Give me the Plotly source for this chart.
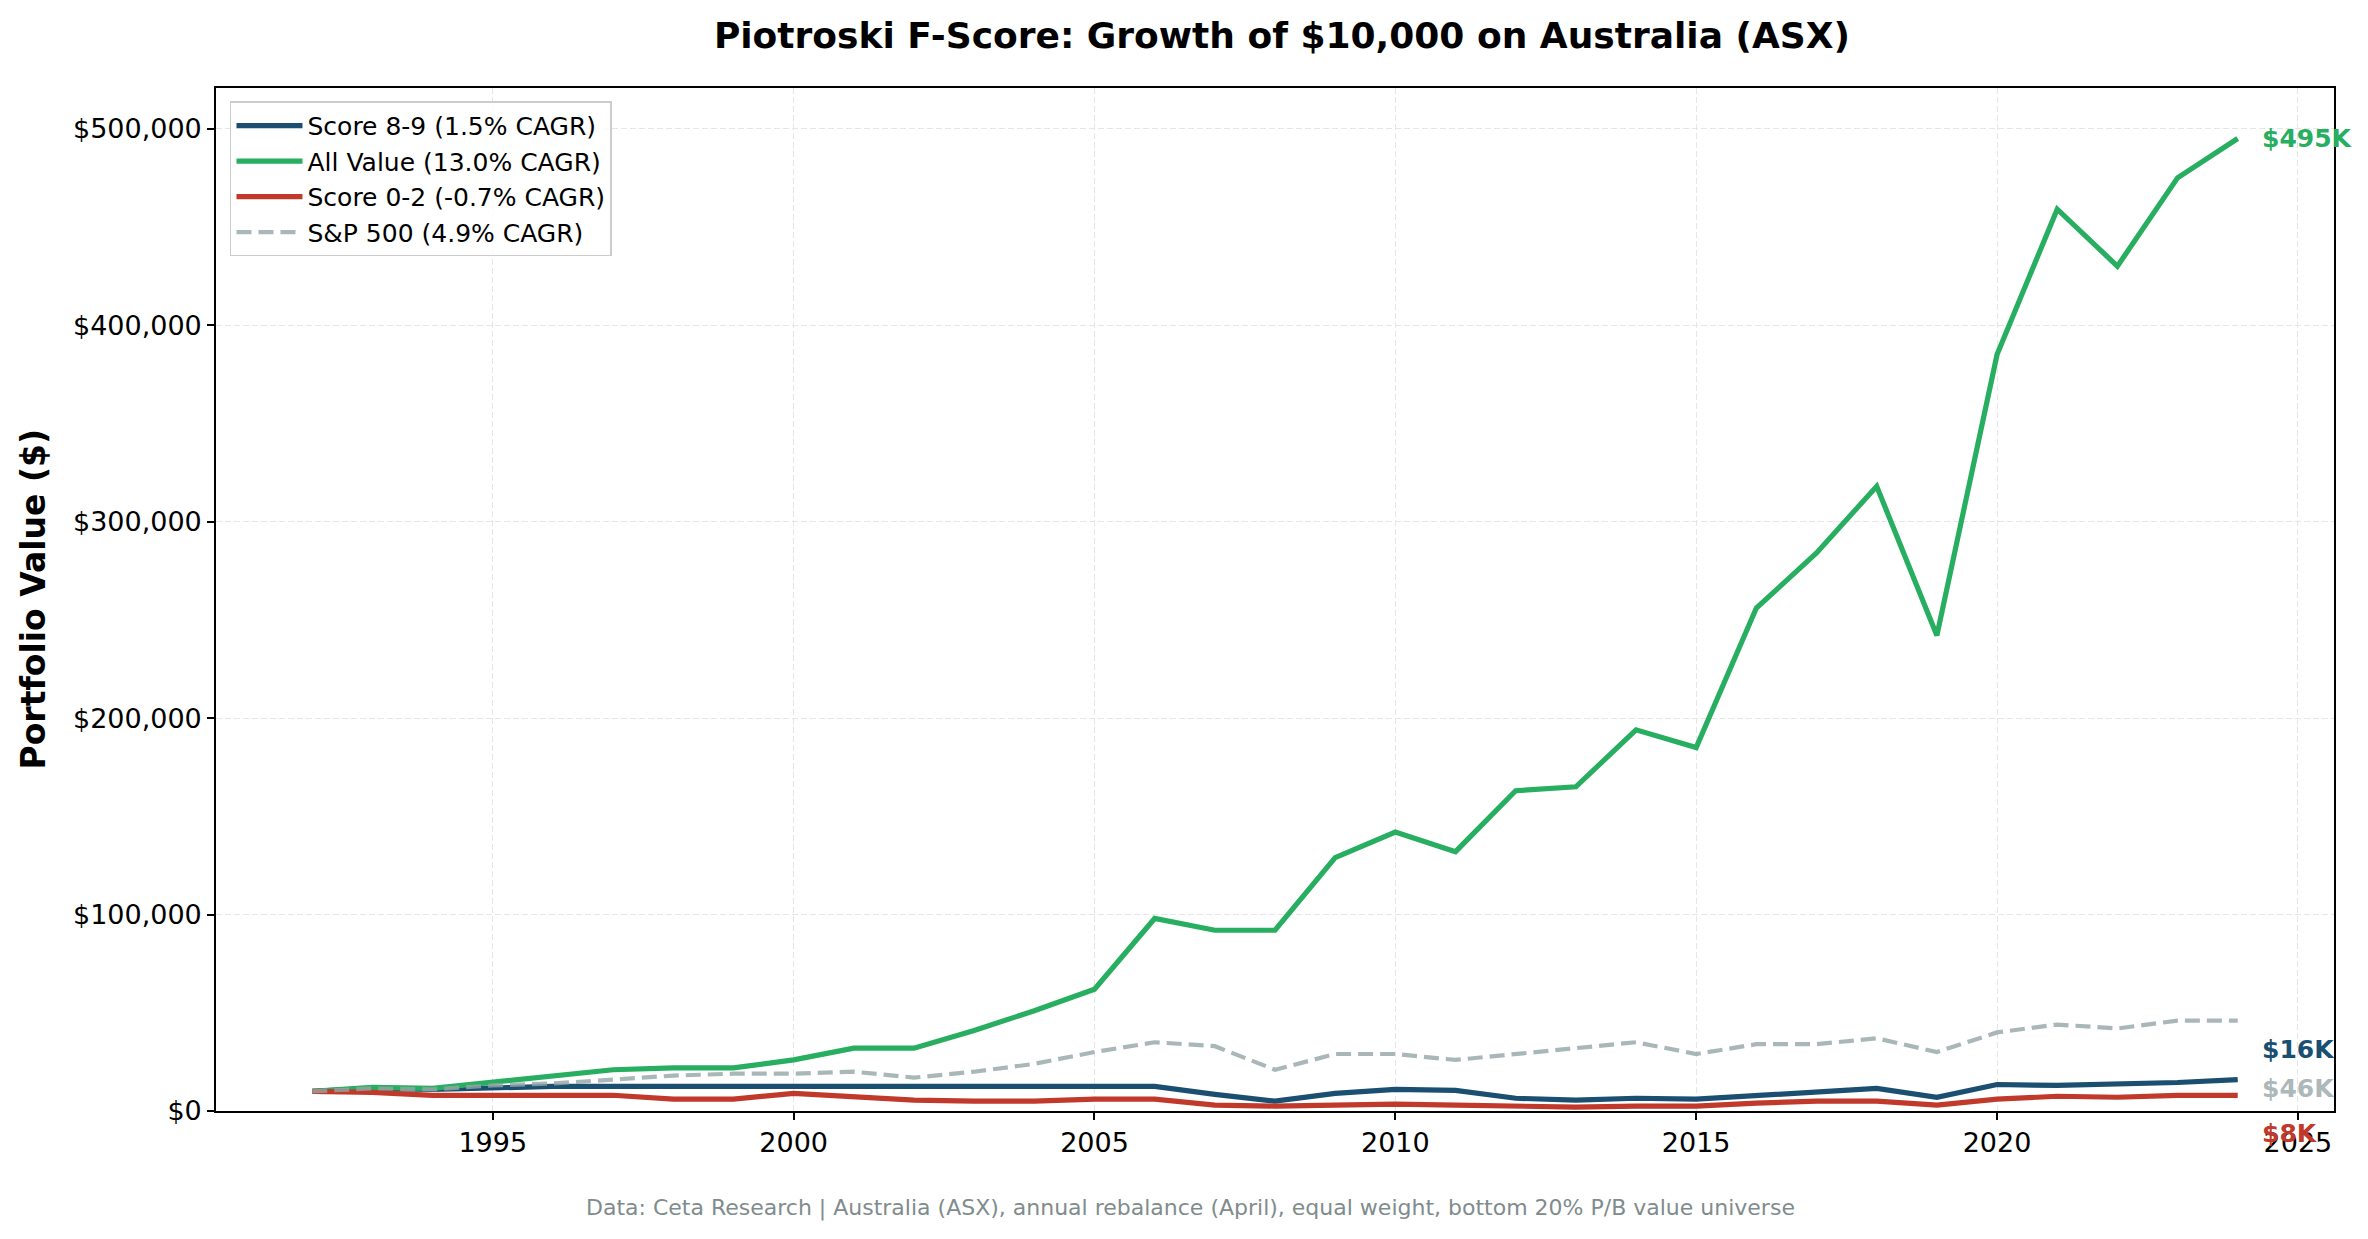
import plotly.graph_objects as go

years = list(range(1992, 2025))

score_89 = [10000, 11500, 11000, 12000, 12500, 12500, 12500, 12500, 12500, 12500, 12500,
            12500, 12500, 12500, 12500, 8500, 5000, 9000, 11000, 10500, 6500, 5500,
            6500, 6000, 8000, 9500, 11500, 7000, 13500, 13000, 13500, 14500, 16000]
all_value = [10000, 12000, 11500, 14500, 17500, 21000, 22000, 22000, 26000, 32000, 32000,
             41000, 51000, 62000, 98000, 92000, 92000, 129000, 142000, 132000, 163000, 165000,
             194000, 185000, 256000, 284000, 318000, 242000, 385000, 459000, 430000, 475000, 495000]
score_02 = [10000, 9500, 8000, 8000, 8000, 8000, 6000, 6000, 9000, 7500, 5500,
            5000, 5000, 6000, 6000, 3000, 2500, 3000, 3500, 3000, 2500, 2000,
            2500, 2500, 4000, 5000, 5000, 3000, 6000, 7500, 7000, 8000, 8000]
sp500 = [10000, 11500, 11000, 13000, 14000, 16000, 18000, 19000, 19000, 20000, 17000,
         20000, 24000, 30000, 35000, 33000, 21000, 29000, 29000, 26000, 29000, 32000,
         35000, 29000, 34000, 34000, 37000, 30000, 40000, 44000, 42000, 46000, 46000]

names = ["Score 8-9 (1.5% CAGR)", "All Value (13.0% CAGR)",
         "Score 0-2 (-0.7% CAGR)", "S&P 500 (4.9% CAGR)"]
series = [score_89, all_value, score_02, sp500]

x_ticks = [1995, 2000, 2005, 2010, 2015, 2020, 2025]
y_ticks = [0, 100000, 200000, 300000, 400000, 500000]

colors = ["#1b4f72", "#27ae60", "#c0392b", "rgba(149,165,166,0.8)"]
widths = [5.2, 5.2, 5.2, 4.2]
dashes = ["solid", "solid", "solid", "15px,7px"]
# сдвиг подписей в конце линий (px), чтобы не налезали друг на друга
label_shift = [30, 0, -38, -68]

FONT = "DejaVu Sans"

fig = go.Figure()
for name, vals, col, w, d in zip(names, series, colors, widths, dashes):
    fig.add_trace(go.Scatter(x=years, y=vals, mode="lines", name=name,
                             line=dict(color=col, width=w, dash=d)))

# подписи конечных значений
for vals, col, sh in zip(series, colors, label_shift):
    fig.add_annotation(x=years[-1], y=vals[-1], xref="x", yref="y",
                       text=f"<b>${vals[-1] / 1000:.0f}K</b>", showarrow=False,
                       xanchor="left", yanchor="middle", xshift=22, yshift=sh,
                       font=dict(family=FONT, size=25, color=col))

fig.add_annotation(x=-0.0864, y=0.5, xref="paper", yref="paper",
                   text="<b>Portfolio Value ($)</b>", textangle=-90, showarrow=False,
                   xanchor="center", yanchor="middle",
                   font=dict(family=FONT, size=33, color="black"))
fig.add_annotation(x=0.46, y=-0.0948, xref="paper", yref="paper",
                   text="Data: Ceta Research | Australia (ASX), annual rebalance (April), equal weight, bottom 20% P/B value universe",
                   showarrow=False, xanchor="center", yanchor="middle",
                   font=dict(family=FONT, size=22, color="#7f8c8d"))

axis_common = dict(showline=True, linecolor="black", linewidth=1.6, mirror=True,
                   ticks="outside", ticklen=7, tickwidth=1.6, tickcolor="black",
                   showgrid=True, gridcolor="#e6e6e6", gridwidth=1.2, griddash="6px,3px",
                   zeroline=False, tickfont=dict(family=FONT, size=27, color="black"))

# страница имеет отступ 8px, поэтому фигура чуть меньше окна
fig.update_layout(
    width=2360, height=1231,
    paper_bgcolor="white", plot_bgcolor="white",
    margin=dict(l=208, r=34, t=80, b=128),
    title=dict(text="<b>Piotroski F-Score: Growth of $10,000 on Australia (ASX)</b>",
               x=0.5398, xanchor="center", y=0.978, yanchor="middle",
               font=dict(family=FONT, size=36, color="black")),
    xaxis=dict(range=[1990.4, 2025.6], tickvals=x_ticks, **axis_common),
    yaxis=dict(range=[0, 520700], tickvals=y_ticks,
               ticktext=[f"${v:,}" for v in y_ticks], **axis_common),
    legend=dict(x=0.0066, y=0.987, xanchor="left", yanchor="top",
                bgcolor="rgba(255,255,255,0.8)", bordercolor="#cccccc", borderwidth=1.5,
                itemwidth=66,
                font=dict(family=FONT, size=25, color="black")),
    showlegend=True,
)

fig.write_html("out.html")
